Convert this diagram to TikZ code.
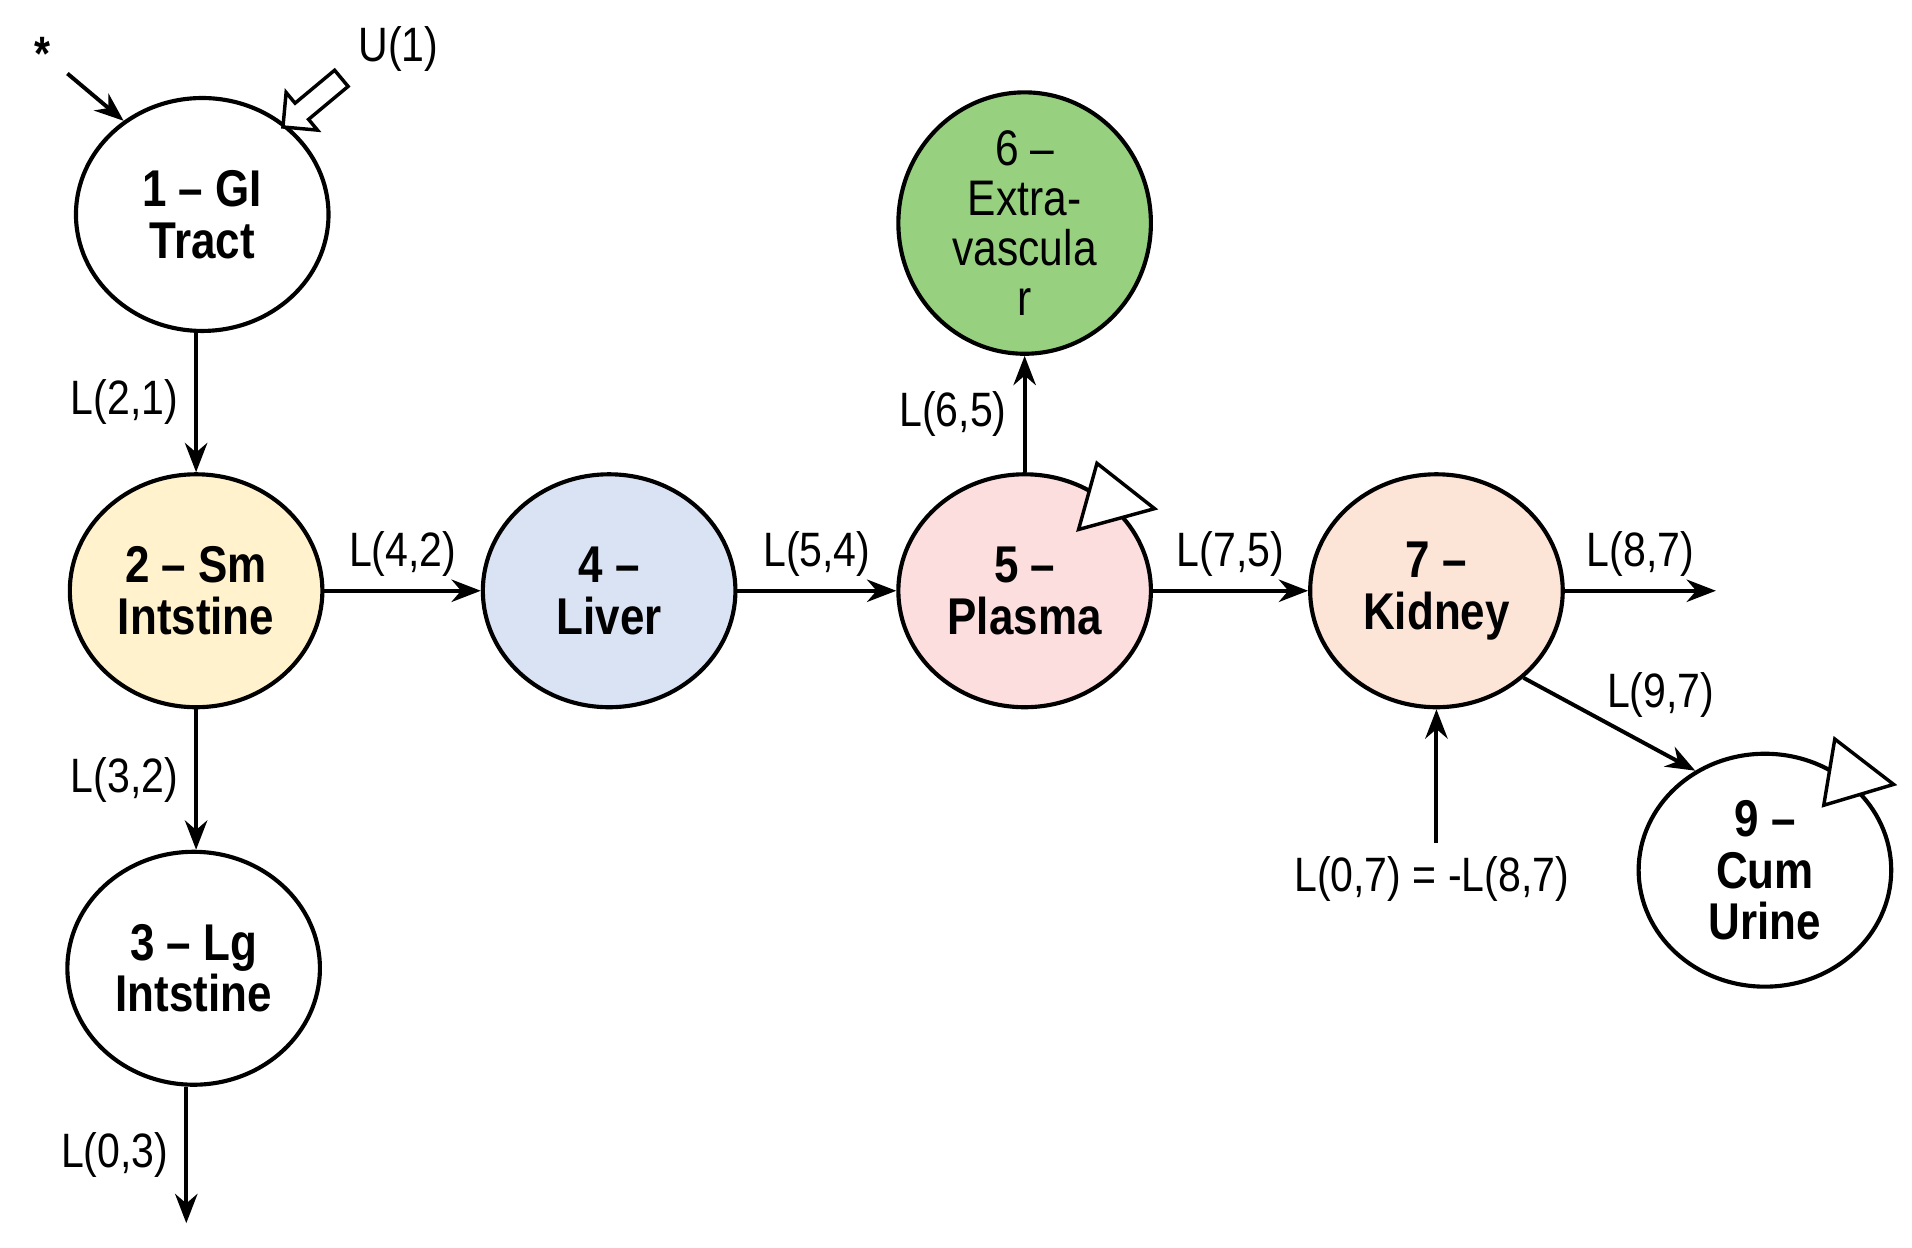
\documentclass[tikz,border=0pt]{standalone}
\usepackage{fontspec}
\setmainfont{Liberation Sans}
\newfontfamily\narrowfont{Liberation Sans}[FakeStretch=0.85,Ligatures=TeX]
\usetikzlibrary{arrows.meta,shapes.geometric,shapes.arrows}
\definecolor{smcol}{HTML}{FFF2CC}
\definecolor{livercol}{HTML}{DAE3F3}
\definecolor{plasmacol}{HTML}{FDDEDE}
\definecolor{extracol}{HTML}{97D07F}
\definecolor{kidneycol}{HTML}{FCE4D6}
\tikzset{
    comp/.style={ellipse,draw=black,line width=2.4pt,minimum width=5.15cm,minimum height=4.75cm,inner sep=0pt,align=center,font=\narrowfont\fontsize{30}{30}\selectfont\bfseries},
    flow/.style={-{Stealth[length=17pt,width=13pt]},line width=2.3pt},
    rate/.style={font=\narrowfont\fontsize{28}{30}\selectfont},
    tip/.style={draw=black,fill=white,line width=2pt,line join=miter}
}
\begin{document}
\begin{tikzpicture}[x=0.025cm,y=-0.025cm]
    \useasboundingbox (0,0) rectangle (1560,1018);
    \node[comp] (gi) at (165,175) {1 \textendash{} GI\\Tract};
    \node[comp,fill=smcol] (sm) at (160,482) {2 \textendash{} Sm\\Intstine};
    \node[comp] (lg) at (158,790) {3 \textendash{} Lg\\Intstine};
    \node[comp,fill=livercol] (liver) at (497,482) {4 \textendash\\Liver};
    \node[comp,fill=plasmacol] (plasma) at (836,482) {5 \textendash\\Plasma};
    \node[comp,fill=extracol,font=\narrowfont\fontsize{29}{29}\selectfont] (extra) at (836,182) {6 \textendash\\Extra-\\vascula\\r};
    \node[comp,fill=kidneycol] (kidney) at (1172,482) {7 \textendash\\Kidney};
    \node[comp] (urine) at (1440,710) {9 \textendash\\Cum\\Urine};
    % inputs
    \node[rate] (star) at (35,44) {\textbf{*}};
    \node[rate] (u1) at (325,40) {U(1)};
    \coordinate (startail) at (55,60);
    \draw[flow] (startail) -- (gi.130);
    \node[single arrow,draw=black,fill=white,line width=2pt,minimum height=1.55cm,minimum width=1.0cm,single arrow head extend=0.14cm,inner sep=2pt,rotate=-140.2] (dose) at (258,81) {};
    % transfers
    \draw[flow] (160,270) coordinate (gis) -- node[rate,left=6pt] {L(2,1)} (gis |- sm.north);
    \draw[flow] (sm) -- node[rate,left=6pt] {L(3,2)} (sm |- lg.north);
    \draw[flow] (sm) -- node[rate,above=4pt] {L(4,2)} (liver);
    \draw[flow] (liver) -- node[rate,above=4pt] {L(5,4)} (plasma);
    \draw[flow] (plasma) -- node[rate,left=6pt] {L(6,5)} (extra);
    \draw[flow] (plasma) -- node[rate,above=4pt] {L(7,5)} (kidney);
    \draw[flow] (kidney.-45) -- (urine.125);
    \node[rate] (l97) at (1355,567) {L(9,7)};
    % outputs
    \coordinate (out3) at (152,998);
    \draw[flow] (lg.south -| out3) -- node[rate,left=6pt] {L(0,3)} (out3);
    \coordinate (out7) at (1400,482);
    \draw[flow] (kidney) -- node[rate,above=4pt] {L(8,7)} (out7);
    \node[rate] (l07) at (1168,717) {L(0,7) = -L(8,7)};
    \coordinate (in7) at (1172,688);
    \draw[flow] (in7) -- (kidney);
    % sampled compartments
    \draw[tip] (880,432) -- (895,378) -- (942,415) -- cycle;
    \draw[tip] (1488,657) -- (1497,603) -- (1545,640) -- cycle;
\end{tikzpicture}
\end{document}
